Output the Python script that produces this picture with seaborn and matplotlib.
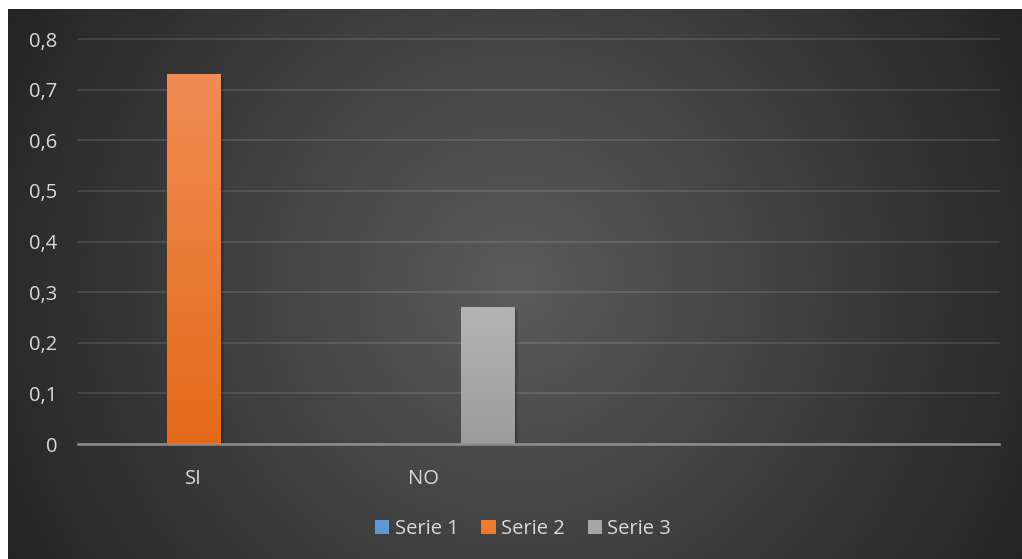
import numpy as np
import pandas as pd
import seaborn as sns
import matplotlib.pyplot as plt
from matplotlib import patheffects as pe
from matplotlib.colors import to_rgb

# ---- data -------------------------------------------------------------
categories = ["SI", "NO"]
series_names = ["Serie 1", "Serie 2", "Serie 3"]
serie_1 = [0.0, 0.0]
serie_2 = [0.73, 0.0]
serie_3 = [0.0, 0.27]
y_ticks = [0.0, 0.1, 0.2, 0.3, 0.4, 0.5, 0.6, 0.7, 0.8]
y_tick_labels = ["0", "0,1", "0,2", "0,3", "0,4", "0,5", "0,6", "0,7", "0,8"]
n_slots = 4  # the category axis has room for four groups

# ---- styles -----------------------------------------------------------
palette = ["#5B9BD5", "#F07B2B", "#A5A5A5"]
bar_gradients = {  # top colour, bottom colour
    "#F07B2B": ("#F18C54", "#E46A18"),
    "#A5A5A5": ("#B4B4B4", "#9C9C9C"),
}
text_color = "#D9D9D9"
bg_center, bg_edge = "#5B5B5B", "#242424"

W, H, DPI = 1022, 559, 100

sns.set_theme(style="white")
plt.rcParams["font.family"] = ["Open Sans", "DejaVu Sans"]

df = pd.DataFrame({
    "categoria": categories * 3,
    "serie": np.repeat(series_names, len(categories)),
    "valor": serie_1 + serie_2 + serie_3,
})

fig = plt.figure(figsize=(W / DPI, H / DPI), dpi=DPI, facecolor="white")

# dark radial background panel
bg = fig.add_axes([8 / W, 0, (W - 8) / W, (H - 9) / H], zorder=-1)
bw, bh = W - 8, H - 9
yy, xx = np.mgrid[0:bh, 0:bw]
cx, cy = bw / 2, bh / 2
r = np.hypot(xx - cx, yy - cy) / np.hypot(cx, cy)
c0, c1 = np.array(to_rgb(bg_center)), np.array(to_rgb(bg_edge))
img = c0[None, None, :] + (c1 - c0)[None, None, :] * r[..., None]
bg.imshow(img, aspect="auto", interpolation="bilinear")
bg.set_axis_off()

ax = fig.add_axes([78 / W, 1 - 444 / H, (999 - 78) / W, (444 - 39) / H])
ax.set_facecolor("none")

sns.barplot(data=df, x="categoria", y="valor", hue="serie", palette=palette,
            order=categories, hue_order=series_names, errorbar=None,
            width=0.835, gap=0.17, saturation=1, linewidth=0, ax=ax)

handles, labels = ax.get_legend_handles_labels()
if ax.get_legend() is not None:
    ax.get_legend().remove()

# gradient fill and soft shadow for every visible bar
for patch in list(ax.patches):
    h = patch.get_height()
    if h <= 0:
        continue
    fc = "#%02X%02X%02X" % tuple(int(round(v * 255)) for v in patch.get_facecolor()[:3])
    top, bottom = bar_gradients.get(fc, (fc, fc))
    patch.set_path_effects([
        pe.SimplePatchShadow(offset=(3, -2), shadow_rgbFace="black", alpha=0.12),
        pe.SimplePatchShadow(offset=(1.5, -1), shadow_rgbFace="black", alpha=0.18),
        pe.Normal(),
    ])
    x0, y0, w = patch.get_x(), patch.get_y(), patch.get_width()
    t = np.linspace(0, 1, 256)[:, None]
    ct, cb = np.array(to_rgb(top)), np.array(to_rgb(bottom))
    grad = (ct + (cb - ct) * t)[:, None, :].repeat(2, axis=1)
    im = ax.imshow(grad, extent=[x0, x0 + w, y0, y0 + h], aspect="auto",
                   origin="upper", zorder=patch.get_zorder() + 0.01)
    im.set_clip_path(patch)

ax.set_xlim(-0.5, n_slots - 0.5)
ax.set_ylim(0, 0.8)
ax.set_yticks(y_ticks)
ax.set_yticklabels(y_tick_labels)
ax.set_xlabel("")
ax.set_ylabel("")

ax.yaxis.grid(True, color="white", alpha=0.12, linewidth=1.3)
ax.xaxis.grid(False)
ax.set_axisbelow(True)
for gl in ax.get_ygridlines():
    gl.set_clip_on(False)

for side in ("top", "right", "left"):
    ax.spines[side].set_visible(False)
ax.spines["bottom"].set_color("#8E8E8E")
ax.spines["bottom"].set_linewidth(1.8)
ax.spines["bottom"].set_zorder(5)

ax.tick_params(axis="both", length=0, labelsize=14.5, labelcolor=text_color)
ax.tick_params(axis="x", pad=18)
ax.tick_params(axis="y", pad=15)

fig.legend(handles, labels, loc="center", bbox_to_anchor=(523 / W, 1 - 529 / H),
           ncol=3, frameon=False, fontsize=14.5, labelcolor=text_color,
           handlelength=0.72, handleheight=0.72, handletextpad=0.26,
           columnspacing=1.13)

fig.savefig("out.png", dpi=DPI, facecolor="white")
